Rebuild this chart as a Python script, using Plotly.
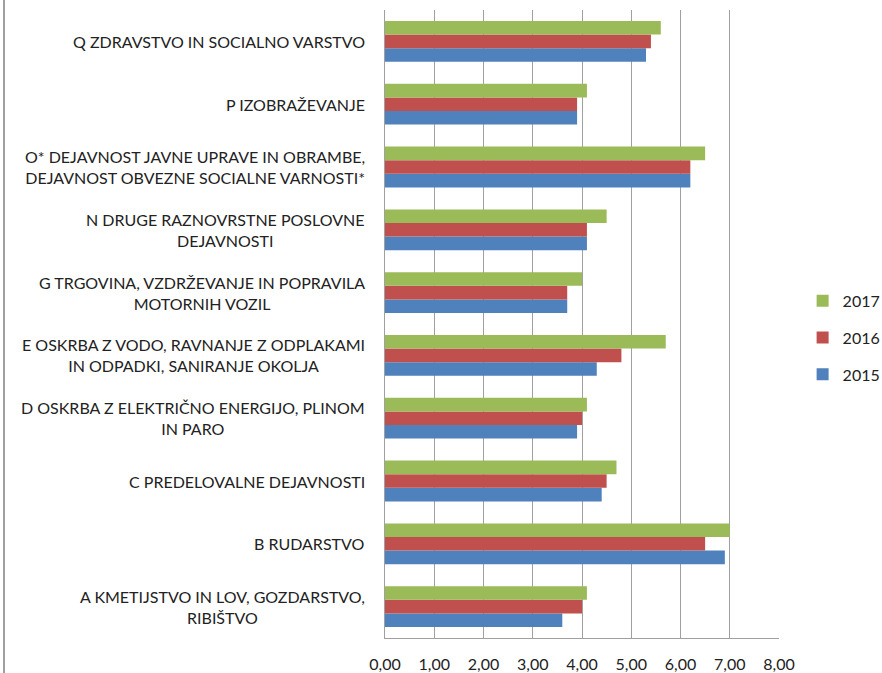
import plotly.graph_objects as go

categories = [
    "A KMETIJSTVO IN LOV, GOZDARSTVO,<br>RIBIŠTVO",
    "B RUDARSTVO",
    "C PREDELOVALNE DEJAVNOSTI",
    "D OSKRBA Z ELEKTRIČNO ENERGIJO, PLINOM<br>IN PARO",
    "E OSKRBA Z VODO, RAVNANJE Z ODPLAKAMI<br>IN ODPADKI, SANIRANJE OKOLJA",
    "G TRGOVINA, VZDRŽEVANJE IN POPRAVILA<br>MOTORNIH VOZIL",
    "N DRUGE RAZNOVRSTNE POSLOVNE<br>DEJAVNOSTI",
    "O* DEJAVNOST JAVNE UPRAVE IN OBRAMBE,<br>DEJAVNOST OBVEZNE SOCIALNE VARNOSTI*",
    "P IZOBRAŽEVANJE",
    "Q ZDRAVSTVO IN SOCIALNO VARSTVO",
]
v2015 = [3.6, 6.9, 4.4, 3.9, 4.3, 3.7, 4.1, 6.2, 3.9, 5.3]
v2016 = [4.0, 6.5, 4.5, 4.0, 4.8, 3.7, 4.1, 6.2, 3.9, 5.4]
v2017 = [4.1, 7.0, 4.7, 4.1, 5.7, 4.0, 4.5, 6.5, 4.1, 5.6]
x_ticks = [0, 1, 2, 3, 4, 5, 6, 7, 8]

FONT = "Lato"
TXT = "#222222"

fig = go.Figure()
for rank, (name, vals, col) in zip([3, 2, 1], [("2015", v2015, "#4F81BD"),
                                              ("2016", v2016, "#C0504D"),
                                              ("2017", v2017, "#9BBB59")]):
    fig.add_trace(go.Bar(y=categories, x=vals, orientation="h", name=name,
                         marker=dict(color=col, line=dict(width=0)),
                         legendgroup=name, legendrank=rank))

annotations = []
for c in categories:
    annotations.append(dict(x=-0.045, xref="paper", y=c, yref="y", text=c, showarrow=False,
                            xanchor="right", yanchor="middle", align="center",
                            font=dict(family=FONT, size=16, color=TXT)))

fig.update_layout(
    width=882, height=673,
    margin=dict(l=385, r=103, t=10, b=35, autoexpand=False),
    paper_bgcolor="white", plot_bgcolor="white",
    barmode="group", bargap=0.35, bargroupgap=0,
    separators=", ",
    font=dict(family=FONT, size=16, color=TXT),
    xaxis=dict(range=[0, 8], tickvals=x_ticks, tickformat=".2f", showgrid=True,
               gridcolor="#A0A0A0", gridwidth=1, zeroline=False, showline=True,
               linecolor="#A0A0A0", linewidth=1, ticks="", ticklabelstandoff=12,
               automargin=False,
               tickfont=dict(family=FONT, size=16, color=TXT)),
    yaxis=dict(showticklabels=False, showgrid=False, zeroline=False, showline=True,
               linecolor="#A0A0A0", linewidth=1, ticks="", automargin=False),
    legend=dict(xref="container", yref="container", x=0.91, y=0.498,
                xanchor="left", yanchor="middle",
                traceorder="grouped", tracegroupgap=13,
                font=dict(family=FONT, size=16, color=TXT), bgcolor="rgba(0,0,0,0)"),
    annotations=annotations,
    shapes=[dict(type="line", xref="paper", yref="paper", x0=-0.967, x1=-0.967,
                 y0=-0.06, y1=1.02, line=dict(color="#7F7F7F", width=1.5))],
)

fig.write_html("out.html", config={"displayModeBar": False},
               post_script="document.body.style.margin='0';document.body.style.overflow='hidden';")
